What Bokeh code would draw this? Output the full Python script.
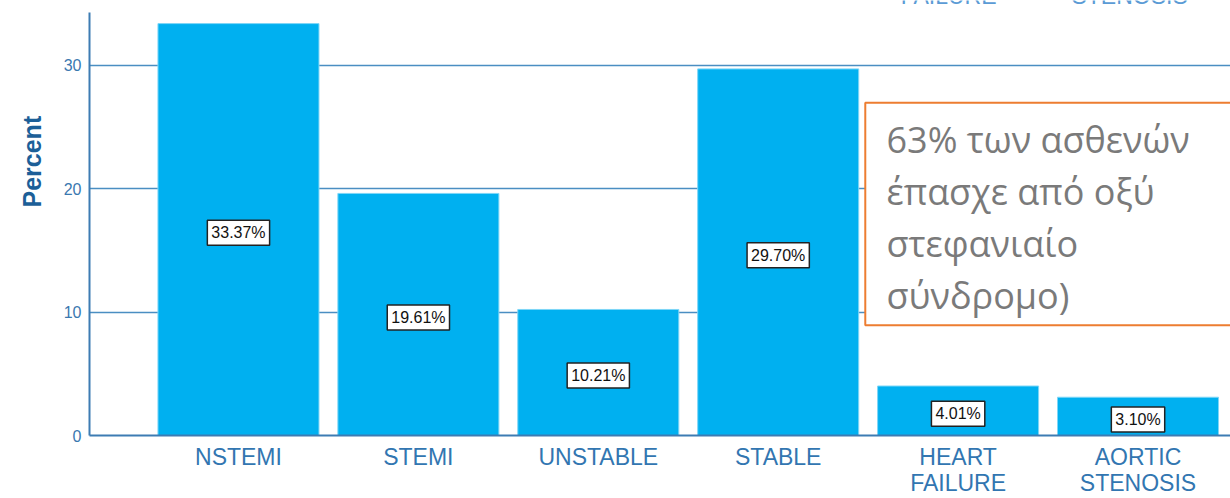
from bokeh.plotting import figure
from bokeh.models import Range1d, FixedTicker, ColumnDataSource, Label, BoxAnnotation, Title
from bokeh.core.properties import value
from bokeh.embed import file_html
from bokeh.resources import INLINE

categories = ["NSTEMI", "STEMI", "UNSTABLE", "STABLE", "HEART\nFAILURE", "AORTIC\nSTENOSIS"]
percent = [33.37, 19.61, 10.21, 29.70, 4.01, 3.10]
percent_labels = ["33.37%", "19.61%", "10.21%", "29.70%", "4.01%", "3.10%"]
y_ticks = [0, 10, 20, 30]
y_axis_top = 34.27
note_text = "63% των ασθενών\nέπασχε από οξύ\nστεφανιαίο\nσύνδρομο)"
top_cut_labels = ["FAILURE", "STENOSIS"]

xs = list(range(len(categories)))
src = ColumnDataSource(dict(
    x=xs, top=percent, lab=percent_labels,
    ly=[v / 2 - 0.25 for v in percent],
))

p = figure(width=1230, height=498, x_range=Range1d(-0.828, 5.514), y_range=Range1d(0, 35.24),
           output_backend="svg", toolbar_location=None,
           min_border_left=89, min_border_right=0, min_border_top=0, min_border_bottom=60)
p.outline_line_color = None
p.background_fill_color = "white"
p.border_fill_color = "white"

axis_col = "#3d7cb3"
p.vbar(x="x", top="top", width=0.895, source=src, fill_color="#00B0F0",
       line_color="#7FD6F7", line_width=1)

p.xgrid.grid_line_color = None
p.ygrid.ticker = FixedTicker(ticks=y_ticks)
p.ygrid.grid_line_color = "#4a8ec2"
p.ygrid.grid_line_width = 1.3

p.yaxis.ticker = FixedTicker(ticks=y_ticks)
p.yaxis.bounds = (0, y_axis_top)
p.yaxis.axis_line_color = axis_col
p.yaxis.axis_line_width = 2
p.yaxis.major_tick_line_color = None
p.yaxis.minor_tick_line_color = None
p.yaxis.major_tick_out = 0
p.yaxis.major_tick_in = 0
p.yaxis.major_label_text_color = "#3a78b0"
p.yaxis.major_label_text_font = "Liberation Sans"
p.yaxis.major_label_text_font_size = "16px"
p.yaxis.major_label_standoff = 8

p.xaxis.ticker = FixedTicker(ticks=xs)
p.xaxis.major_label_overrides = {i: c for i, c in enumerate(categories)}
p.xaxis.axis_line_color = axis_col
p.xaxis.axis_line_width = 2
p.xaxis.major_tick_line_color = None
p.xaxis.minor_tick_line_color = None
p.xaxis.major_tick_out = 0
p.xaxis.major_tick_in = 0
p.xaxis.major_label_text_color = "#3276b1"
p.xaxis.major_label_text_font = "Liberation Sans"
p.xaxis.major_label_text_font_size = "23px"
p.xaxis.major_label_text_line_height = 1.0
p.xaxis.major_label_standoff = 8

p.text(x="x", y="ly", text="lab", source=src, text_align="center", text_baseline="middle",
       text_font=value("Liberation Sans"), text_font_size="16px", text_color="#111111",
       background_fill_color="white", border_line_color="#222222", border_line_width=1.5,
       padding=4)

# y-axis title
p.add_layout(Title(text="Percent", align="left", offset=228, standoff=30,
                   text_font="Liberation Sans", text_font_size="25px", text_font_style="bold",
                   text_color="#1c5f98"), "left")

# note box
p.add_layout(BoxAnnotation(left=3.484, right=5.6, top=26.95, bottom=8.93,
                           fill_color="white", fill_alpha=1.0,
                           line_color="#ED7D31", line_width=2, line_alpha=1.0))
p.add_layout(Label(x=3.602, y=25.95, text=note_text, text_align="left", text_baseline="top",
                   text_font="Open Sans", text_font_size="36px", text_color="#7a7a7a",
                   text_line_height=1.06))

# partially visible labels at the very top (from a chart above)
for cx, t in zip([3.947, 4.953], top_cut_labels):
    p.add_layout(Label(x=cx, y=35.57, text=t, text_align="center", text_baseline="alphabetic",
                       text_font="Liberation Sans", text_font_size="23px", text_color="#5b9bd5"))

open("out.html", "w").write(file_html(p, INLINE))
